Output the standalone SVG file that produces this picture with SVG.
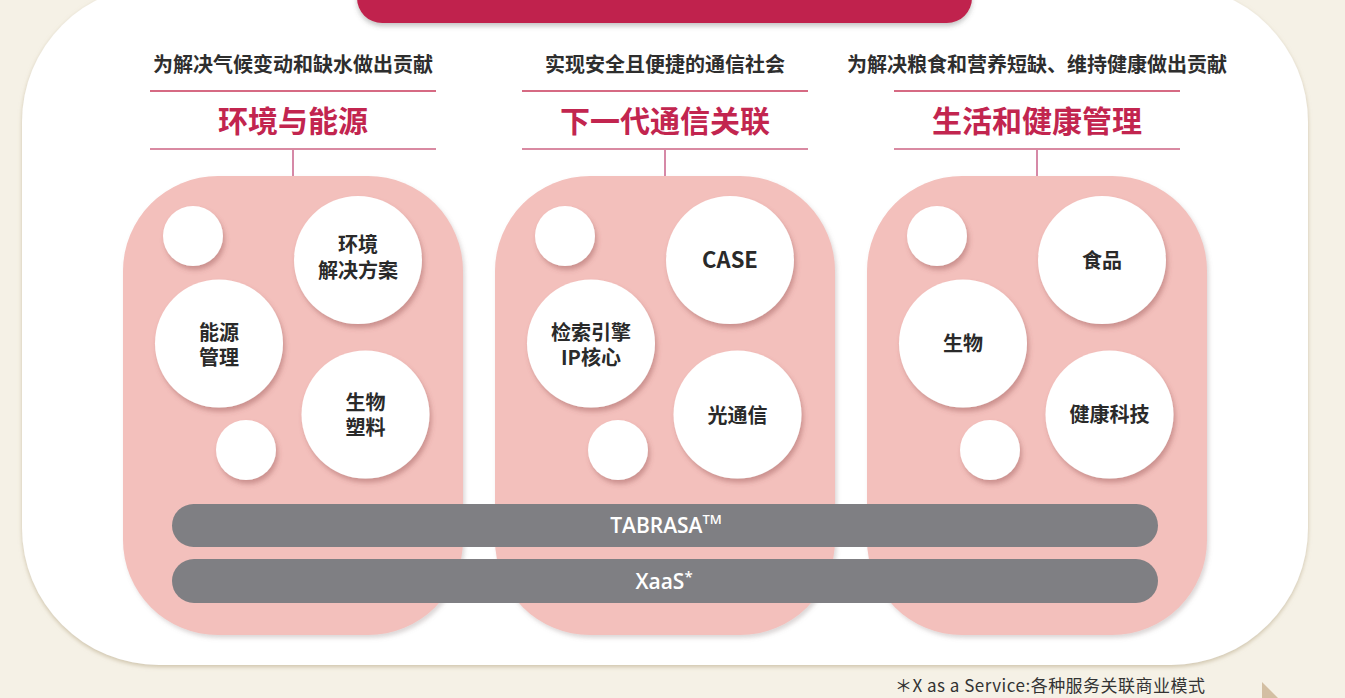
<svg xmlns="http://www.w3.org/2000/svg" width="1345" height="698" viewBox="0 0 1345 698">
<defs>
<filter id="shW" x="-5%" y="-5%" width="110%" height="115%"><feDropShadow dx="0" dy="2" stdDeviation="2" flood-color="#b5a684" flood-opacity="0.6"/></filter>
<filter id="shP" x="-10%" y="-10%" width="120%" height="120%"><feDropShadow dx="2" dy="3" stdDeviation="2" flood-color="#8a7a7a" flood-opacity="0.3"/></filter>
<filter id="shC" x="-20%" y="-20%" width="140%" height="150%"><feDropShadow dx="2" dy="4" stdDeviation="2.5" flood-color="#8e4b4b" flood-opacity="0.4"/></filter>
<filter id="shH" x="-5%" y="-20%" width="110%" height="160%"><feDropShadow dx="0" dy="3" stdDeviation="2.5" flood-color="#555" flood-opacity="0.35"/></filter>
<style>
text{font-family:"Noto Sans CJK SC","Noto Sans",sans-serif;}
.sub{font-size:20px;font-weight:700;fill:#2e2e2e;text-anchor:middle;}
.ttl{font-size:30px;font-weight:700;fill:#c2254f;text-anchor:middle;}
.l1{stroke:#c8385a;stroke-width:1.3;}
.l2{stroke:#d98aa2;stroke-width:2;}
.conn{stroke:#c9628a;stroke-width:1.5;}
.panel{fill:#f3c0bc;filter:url(#shP);}
.cir{fill:#ffffff;filter:url(#shC);}
.ct{font-size:20px;font-weight:700;fill:#2a2a2a;text-anchor:middle;}
.bar{fill:#7f7f83;}
.bt{font-family:"Open Sans","Noto Sans",sans-serif;font-size:21px;font-weight:600;fill:#ffffff;text-anchor:middle;}
.fn{font-size:17px;fill:#333333;}
</style>
</defs>
<rect x="0" y="0" width="1345" height="698" fill="#f5f1e6"/>
<rect x="22" y="-15" width="1286" height="680" rx="137" fill="#ffffff" filter="url(#shW)"/>
<rect x="357" y="-30" width="615" height="53" rx="25" fill="#c0244e" filter="url(#shH)"/>
<polygon points="1262,682 1292,712 1262,742" fill="#d3bfa3"/>

<g id="connectors">
<line class="conn" x1="293" y1="149" x2="293" y2="177"/>
<line class="conn" x1="665" y1="149" x2="665" y2="177"/>
<line class="conn" x1="1037" y1="149" x2="1037" y2="177"/>
</g>

<g id="header1">
<text class="sub" x="293" y="71.5">为解决气候变动和缺水做出贡献</text>
<line class="l1" x1="150" y1="91" x2="436" y2="91"/>
<text class="ttl" x="293" y="132">环境与能源</text>
<line class="l2" x1="150" y1="149" x2="436" y2="149"/>
</g>
<g id="header2">
<text class="sub" x="665" y="71.5">实现安全且便捷的通信社会</text>
<line class="l1" x1="522" y1="91" x2="808" y2="91"/>
<text class="ttl" x="665" y="132">下一代通信关联</text>
<line class="l2" x1="522" y1="149" x2="808" y2="149"/>
</g>
<g id="header3">
<text class="sub" x="1037" y="71.5">为解决粮食和营养短缺、维持健康做出贡献</text>
<line class="l1" x1="894" y1="91" x2="1180" y2="91"/>
<text class="ttl" x="1037" y="132">生活和健康管理</text>
<line class="l2" x1="894" y1="149" x2="1180" y2="149"/>
</g>

<g id="panel1">
<rect class="panel" x="123" y="176" width="340" height="459" rx="95"/>
<circle class="cir" cx="193" cy="236" r="30"/>
<circle class="cir" cx="246" cy="450" r="30"/>
<g id="n-env"><circle class="cir" cx="358" cy="260" r="64"/><text class="ct" x="358" y="251.5">环境<tspan x="358" dy="26">解决方案</tspan></text></g>
<g id="n-energy"><circle class="cir" cx="219" cy="343.5" r="64"/><text class="ct" x="219" y="339.5">能源<tspan x="219" dy="25">管理</tspan></text></g>
<g id="n-bioplastic"><circle class="cir" cx="365.5" cy="414.5" r="64"/><text class="ct" x="365.5" y="409.5">生物<tspan x="365.5" dy="25.5">塑料</tspan></text></g>
</g>

<g id="panel2">
<rect class="panel" x="495" y="176" width="340" height="459" rx="95"/>
<circle class="cir" cx="565" cy="236" r="30"/>
<circle class="cir" cx="618" cy="450" r="30"/>
<g id="n-case"><circle class="cir" cx="730" cy="260" r="64"/><text class="ct" x="730" y="267.5" style="font-size:22px">CASE</text></g>
<g id="n-ip"><circle class="cir" cx="591" cy="343.5" r="64"/><text class="ct" x="591" y="339.5">检索引擎<tspan x="591" dy="25.5">IP核心</tspan></text></g>
<g id="n-optical"><circle class="cir" cx="737.5" cy="414.5" r="64"/><text class="ct" x="737.5" y="422.5">光通信</text></g>
</g>

<g id="panel3">
<rect class="panel" x="867" y="176" width="340" height="459" rx="95"/>
<circle class="cir" cx="937" cy="236" r="30"/>
<circle class="cir" cx="990" cy="450" r="30"/>
<g id="n-food"><circle class="cir" cx="1102" cy="260" r="64"/><text class="ct" x="1102" y="267.5">食品</text></g>
<g id="n-bio"><circle class="cir" cx="963" cy="343.5" r="64"/><text class="ct" x="963" y="351">生物</text></g>
<g id="n-health"><circle class="cir" cx="1109.5" cy="414.5" r="64"/><text class="ct" x="1109.5" y="422">健康科技</text></g>
</g>

<g id="bar-tabrasa">
<rect class="bar" x="172" y="504" width="986" height="43" rx="21.5"/>
<text class="bt" x="666" y="533" font-weight="500">TABRASA<tspan font-size="13" dy="-9">TM</tspan></text>
</g>
<g id="bar-xaas">
<rect class="bar" x="172" y="559" width="986" height="44" rx="22"/>
<text class="bt" x="664" y="588.5" font-weight="500">XaaS<tspan font-size="15" dy="-7">*</tspan></text>
</g>

<text class="fn" x="895" y="692" textLength="310" lengthAdjust="spacing">＊X as a Service:各种服务关联商业模式</text>
</svg>
